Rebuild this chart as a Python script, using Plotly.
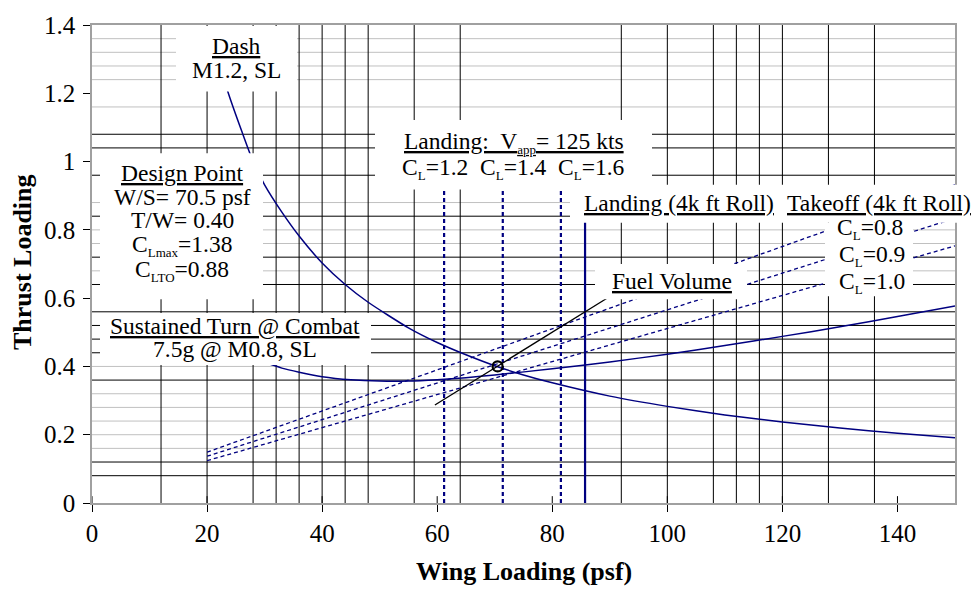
import plotly.graph_objects as go

# ---------------- data ----------------
dash_ws = [21, 23.7, 26, 28, 30, 33, 36, 40, 44, 48, 55, 60, 65, 70, 75, 80, 90, 100, 110, 120, 130, 140, 150]
dash_tw = [1.35, 1.20, 1.09, 1.00, 0.932, 0.852, 0.782, 0.703, 0.640, 0.588, 0.513, 0.470, 0.434, 0.402, 0.375,
           0.352, 0.313, 0.283, 0.258, 0.237, 0.220, 0.204, 0.191]

turn_ws = [30, 33, 36, 40, 45, 50, 55, 60, 65, 70, 80, 90, 100, 110, 120, 130, 140, 150]
turn_tw = [0.412, 0.395, 0.383, 0.370, 0.361, 0.357, 0.357, 0.361, 0.367, 0.375, 0.393, 0.413, 0.436, 0.461,
           0.488, 0.516, 0.546, 0.577]

takeoff_ws = [20, 150]
takeoff_cl08 = [0.149, 0.932]
takeoff_cl09 = [0.137, 0.834]
takeoff_cl10 = [0.124, 0.753]

landing_vapp_ws = [61.2, 71.4, 81.5]      # CL = 1.2, 1.4, 1.6
landing_vapp_tw = [0, 0.92]
landing_roll_ws = 85.7
landing_roll_tw = [0, 0.83]

fuel_ws = [59.6, 90.0]
fuel_tw = [0.287, 0.605]

design_ws = [70.5]
design_tw = [0.40]

x_ticks = [0, 20, 40, 60, 80, 100, 120, 140]
y_ticks = [0, 0.2, 0.4, 0.6, 0.8, 1.0, 1.2, 1.4]
y_tick_labels = ["0", "0.2", "0.4", "0.6", "0.8", "1", "1.2", "1.4"]

grid_gray_y = [0.16, 0.20, 0.24, 0.28, 0.32, 0.40, 0.68, 0.76, 0.80, 0.88, 1.16, 1.24, 1.28, 1.32, 1.36]
grid_black_y = [0.08, 0.12, 0.36, 0.44, 0.48, 0.52, 0.56, 0.64, 0.72, 0.84, 0.96, 1.04, 1.08]
grid_black_x = [12, 20, 28, 32, 36, 40, 44, 48, 56, 64, 92, 100, 108, 112, 116, 120, 128, 136]

# ---------------- layout geometry ----------------
W, H = 972, 590
ML, MR, MT, MB = 92, 17, 15, 87
PW, PH = W - ML - MR, H - MT - MB
FONT = "Liberation Serif"
NAVY = "#000080"


def px(xp):
    return (xp - ML) / PW


def py(yp):
    return (H - MB - yp) / PH


fig = go.Figure()

line_style = dict(color=NAVY, width=1.5)
fig.add_trace(go.Scatter(x=dash_ws, y=dash_tw, mode="lines", line=dict(shape="spline", smoothing=0.6, **line_style)))
fig.add_trace(go.Scatter(x=turn_ws, y=turn_tw, mode="lines", line=dict(shape="spline", smoothing=0.6, **line_style)))
for ys in (takeoff_cl08, takeoff_cl09, takeoff_cl10):
    fig.add_trace(go.Scatter(x=takeoff_ws, y=ys, mode="lines", line=dict(color=NAVY, width=1.3, dash="4px,3px")))
for xv in landing_vapp_ws:
    fig.add_trace(go.Scatter(x=[xv, xv], y=landing_vapp_tw, mode="lines",
                             line=dict(color=NAVY, width=2.2, dash="4px,3px")))
fig.add_trace(go.Scatter(x=[landing_roll_ws, landing_roll_ws], y=landing_roll_tw, mode="lines",
                         line=dict(color=NAVY, width=2.2)))
fig.add_trace(go.Scatter(x=fuel_ws, y=fuel_tw, mode="lines", line=dict(color="black", width=1.3)))
fig.add_trace(go.Scatter(x=design_ws, y=design_tw, mode="markers",
                         marker=dict(symbol="circle-open", size=10, color="black", line=dict(width=2.2))))

shapes = []
for yv in grid_gray_y:
    shapes.append(dict(type="line", xref="paper", x0=0, x1=1, yref="y", y0=yv, y1=yv,
                       line=dict(color="#c0c0c0", width=1), layer="below"))
for yv in grid_black_y:
    shapes.append(dict(type="line", xref="paper", x0=0, x1=1, yref="y", y0=yv, y1=yv,
                       line=dict(color="black", width=1), layer="below"))
for xv in grid_black_x:
    shapes.append(dict(type="line", yref="paper", y0=0, y1=1, xref="x", x0=xv, x1=xv,
                       line=dict(color="black", width=1), layer="below"))
# inner half of the crossing x ticks
for xv in x_ticks:
    shapes.append(dict(type="line", yref="paper", y0=0, y1=7 / PH, xref="x", x0=xv, x1=xv,
                       line=dict(color="black", width=1), layer="below"))

# white label boxes (pixel extents)
boxes = [
    (176, 297, 16, 83),     # Dash
    (100, 263, 146, 295),   # Design point
    (100, 371, 309, 362),   # Sustained turn
    (375, 652, 112, 183),   # Landing Vapp
    (570, 972, 178, 217),   # Landing / Takeoff roll
    (595, 747, 259, 295),   # Fuel volume
    (825, 913, 217, 292),   # CL labels
]
for x0, x1, y0, y1 in boxes:
    shapes.append(dict(type="rect", xref="paper", yref="paper", x0=px(x0), x1=px(x1), y0=py(y1), y1=py(y0),
                       fillcolor="white", line=dict(width=0), layer="above"))


def SUB(s):
    return "<sub><span style='font-size:13px'>" + s + "</span></sub>"


labels = [
    ("<u>Dash</u>", 236, 36),
    ("M1.2, SL", 236, 61),
    ("<u>Design Point</u>", 182, 166),
    ("W/S= 70.5 psf", 182, 191),
    ("T/W= 0.40", 182, 214),
    ("C" + SUB("Lmax") + "=1.38", 182, 240),
    ("C" + SUB("LTO") + "=0.88", 182, 266),
    ("<u>Sustained Turn @ Combat</u>", 235, 322),
    ("7.5g @ M0.8, SL", 235, 346),
    ("<u>Landing:  V" + SUB("app") + "= 125 kts</u>", 514, 135),
    ("C" + SUB("L") + "=1.2  C" + SUB("L") + "=1.4  C" + SUB("L") + "=1.6", 513, 162),
    ("<u>Landing (4k ft Roll)</u>", 679, 197),
    ("<u>Takeoff (4k ft Roll)</u>", 879, 197),
    ("<u>Fuel Volume</u>", 672, 276),
    ("C" + SUB("L") + "=0.8", 870, 223),
    ("C" + SUB("L") + "=0.9", 872, 250),
    ("C" + SUB("L") + "=1.0", 872, 278),
]
annotations = []
for text, xp, yp in labels:
    annotations.append(dict(text=text, xref="paper", yref="paper", x=px(xp), y=py(yp), xanchor="center",
                            yanchor="middle", showarrow=False, font=dict(family=FONT, size=23.5, color="black")))
annotations.append(dict(text="<b>Wing Loading (psf)</b>", xref="paper", yref="paper", x=0.5, y=py(573),
                        xanchor="center", yanchor="middle", showarrow=False,
                        font=dict(family=FONT, size=26, color="black")))
annotations.append(dict(text="<b>Thrust Loading</b>", xref="paper", yref="paper", x=px(22), y=py(257),
                        xanchor="center", yanchor="middle", showarrow=False, textangle=-90,
                        font=dict(family=FONT, size=26, color="black")))

common = dict(showgrid=False, zeroline=False, showline=True, linecolor="#a0a0a0", linewidth=1.5,
              mirror=True, ticks="outside", ticklen=7, tickcolor="black", tickwidth=1,
              tickfont=dict(family=FONT, size=25, color="black"))
fig.update_layout(
    width=W, height=H, margin=dict(l=ML, r=MR, t=MT, b=MB), autosize=False,
    paper_bgcolor="white", plot_bgcolor="white", showlegend=False,
    xaxis=dict(range=[0, 150], tickvals=x_ticks, ticklabelstandoff=0, **common),
    yaxis=dict(range=[0, 1.4], tickvals=y_ticks, ticktext=y_tick_labels, ticklabelstandoff=3, **common),
    shapes=shapes, annotations=annotations,
)
fig.write_html("out.html")
